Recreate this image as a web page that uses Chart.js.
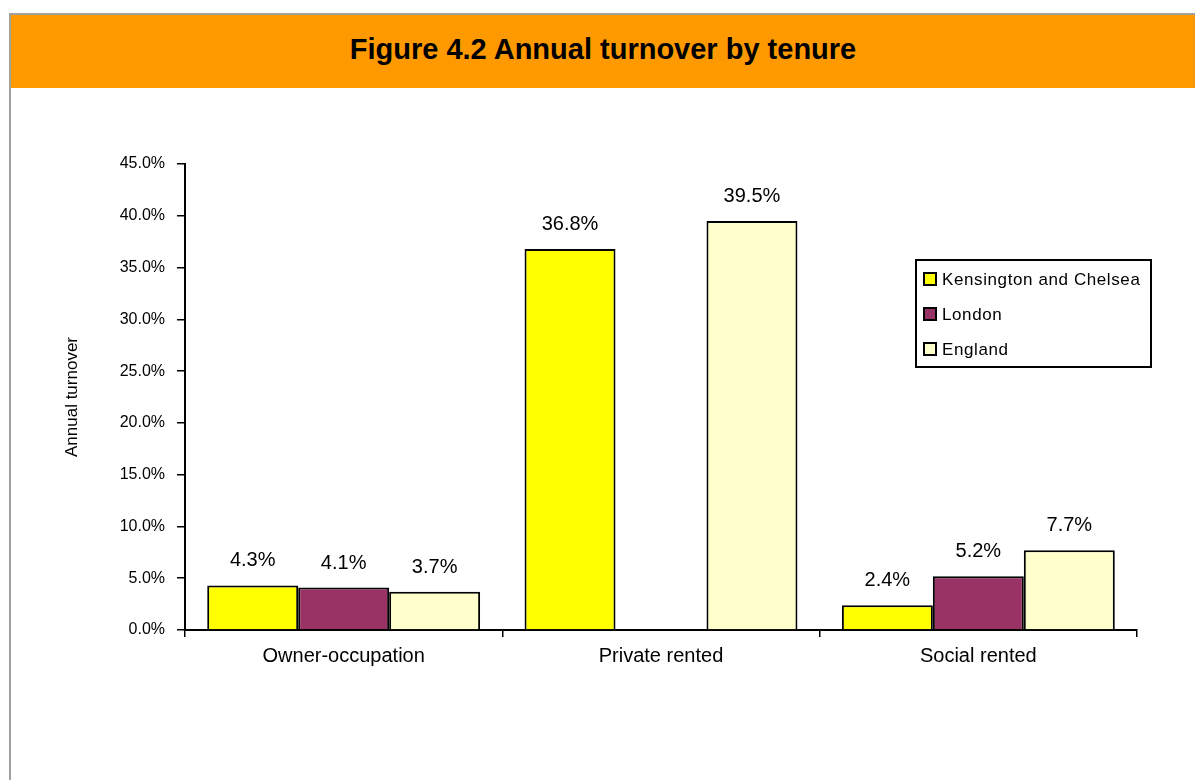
<!DOCTYPE html>
<html>
<head>
<meta charset="utf-8">
<script src="https://cdn.jsdelivr.net/npm/chart.js@4"></script>
<style>
  body { margin: 0; background: #fff; font-family: "Liberation Sans", Arial, sans-serif; }
  #frame { position: absolute; left: 9px; top: 13px; width: 1200px; height: 780px;
           border-top: 2px solid #a0a0a0; border-left: 2px solid #a0a0a0; }
  #header { position: absolute; left: 11px; top: 15px; width: 1184px; height: 73px;
            background: #ff9900; z-index: 2; display: flex; align-items: center; justify-content: center; }
  #header h1 { margin: 0 0 4px 0; font-size: 29px; font-weight: bold; color: #000; }
  #wrap { position: absolute; left: 0; top: 0; width: 1195px; height: 780px; }
</style>
</head>
<body>
<div id="frame"></div>
<div id="header"><h1>Figure 4.2 Annual turnover by tenure</h1></div>
<div id="wrap"><canvas id="myChart"></canvas></div>
<script>
const categories = ["Owner-occupation", "Private rented", "Social rented"]
const kensington = [4.3, 36.8, 2.4]
const london = [4.1, null, 5.2]
const england = [3.7, 39.5, 7.7]
const yTicks = [0, 5, 10, 15, 20, 25, 30, 35, 40, 45]

const font = "'Liberation Sans', Arial, sans-serif"

// value labels above each bar
const barLabels = {
  id: "barLabels",
  afterDatasetsDraw(chart) {
    const ctx = chart.ctx
    ctx.save()
    ctx.font = "20px " + font
    ctx.fillStyle = "#000"
    ctx.textAlign = "center"
    ctx.textBaseline = "alphabetic"
    chart.data.datasets.forEach((ds, i) => {
      chart.getDatasetMeta(i).data.forEach((bar, j) => {
        const v = ds.data[j]
        if (v == null) return
        ctx.fillText(v.toFixed(1) + "%", bar.x, bar.y - 19)
      })
    })
    ctx.restore()
  }
}

// boxed legend inside the plot, top right
const boxLegend = {
  id: "boxLegend",
  afterDraw(chart) {
    const ctx = chart.ctx
    const area = chart.chartArea
    const x = area.right - 221, y = area.top + 96, w = 235, h = 107
    ctx.save()
    ctx.fillStyle = "#fff"
    ctx.fillRect(x, y, w, h)
    ctx.lineWidth = 2
    ctx.strokeStyle = "#000"
    ctx.strokeRect(x, y, w, h)
    ctx.font = "17px " + font
    ctx.letterSpacing = "0.6px"
    ctx.textBaseline = "middle"
    chart.data.datasets.forEach((ds, i) => {
      const cy = y + 19 + i * 35
      ctx.fillStyle = ds.backgroundColor
      ctx.fillRect(x + 8, cy - 6, 12, 12)
      ctx.lineWidth = 2
      ctx.strokeRect(x + 8, cy - 6, 12, 12)
      ctx.fillStyle = "#000"
      ctx.fillText(ds.label, x + 26, cy + 1)
    })
    ctx.restore()
  }
}

const chartData = {
  labels: categories,
  datasets: [
    { label: "Kensington and Chelsea", data: kensington, backgroundColor: "#ffff00" },
    { label: "London", data: london, backgroundColor: "#993366" },
    { label: "England", data: england, backgroundColor: "#ffffcc" }
  ].map(d => Object.assign(d, { borderColor: "#000", borderWidth: 2, borderSkipped: "bottom",
                               categoryPercentage: 0.86, barPercentage: 1.0 }))
}

const chartOptions = {
  responsive: true,
  maintainAspectRatio: false,
  animation: false,
  layout: { padding: { top: 164, left: 62, right: 58, bottom: 0 } },
  plugins: { legend: { display: false }, tooltip: { enabled: false } },
  scales: {
    x: {
      afterFit: s => { s.height = 150 },
      grid: { display: true, drawOnChartArea: false, offset: true, color: "#000", tickLength: 7, lineWidth: 1.5 },
      border: { color: "#000", width: 2 },
      ticks: { color: "#000", font: { size: 20, family: font }, padding: 7 }
    },
    y: {
      min: 0,
      max: 45,
      afterFit: s => { s.width = 123 },
      afterBuildTicks: s => { s.ticks = yTicks.map(v => ({ value: v })) },
      grid: { display: true, drawOnChartArea: false, color: "#000", tickLength: 8, lineWidth: 1.5 },
      border: { color: "#000", width: 2 },
      ticks: { color: "#000", font: { size: 16, family: font }, padding: 12,
               callback: v => v.toFixed(1) + "%" },
      title: { display: true, text: "Annual turnover", color: "#000",
               font: { size: 17, family: font }, padding: 0 }
    }
  }
}

const ctx = document.getElementById("myChart").getContext("2d")
new Chart(ctx, { type: "bar", data: chartData, options: chartOptions, plugins: [barLabels, boxLegend] })
</script>
</body>
</html>
